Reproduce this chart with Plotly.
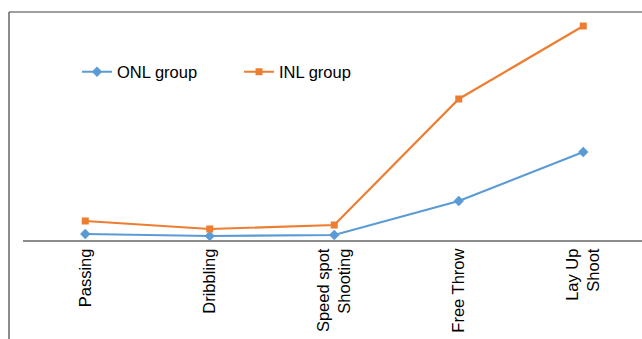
import plotly.graph_objects as go

categories = ["Passing", "Dribbling", "Speed spot<br>Shooting", "Free Throw", "Lay Up<br>Shoot"]
onl_values = [0.6, 0.4, 0.5, 3.9, 8.8]
inl_values = [1.9, 1.1, 1.5, 14.1, 21.4]

blue = "#5B9BD5"
orange = "#ED7D31"
font_family = "Liberation Sans, Arial, sans-serif"

fig = go.Figure()
fig.add_trace(go.Scatter(
    x=list(range(len(categories))), y=onl_values, name="ONL group",
    mode="lines+markers",
    line=dict(color=blue, width=2.2),
    marker=dict(symbol="diamond", size=8, color=blue),
))
fig.add_trace(go.Scatter(
    x=list(range(len(categories))), y=inl_values, name="INL group",
    mode="lines+markers",
    line=dict(color=orange, width=2.2),
    marker=dict(symbol="square", size=7, color=orange),
))

W, H = 642, 339
ml, mr, mt, mb = 23, 0, 12, 99
pw = W - ml - mr
ph = H - mt - mb
step = 124.5

fig.update_layout(
    width=W, height=H,
    margin=dict(l=ml, r=mr, t=mt, b=mb, pad=0),
    paper_bgcolor="white", plot_bgcolor="white",
    font=dict(family=font_family, size=16.5, color="black"),
    showlegend=True,
    legend=dict(
        orientation="h", x=(77 - ml) / pw, xanchor="left",
        y=(240 - 72) / ph, yanchor="middle",
        bgcolor="rgba(0,0,0,0)", entrywidth=117, entrywidthmode="pixels",
        font=dict(size=16.5),
    ),
    xaxis=dict(
        tickmode="array", tickvals=list(range(len(categories))), ticktext=categories,
        range=[-0.5, -0.5 + pw / step],
        tickangle=-90, showgrid=False, zeroline=False,
        showline=True, linecolor="#8c8c8c", linewidth=2,
        ticks="", ticklen=0,
    ),
    yaxis=dict(
        range=[0, ph / 10.0], showticklabels=False, showgrid=False,
        zeroline=False, showline=False, ticks="",
    ),
    shapes=[
        dict(type="line", xref="paper", yref="paper",
             x0=(9 - ml) / pw, x1=(9 - ml) / pw, y0=1.0, y1=-0.6,
             line=dict(color="#404040", width=1.2)),
        dict(type="line", xref="paper", yref="paper",
             x0=(9 - ml) / pw, x1=1.1, y0=1.0, y1=1.0,
             line=dict(color="#404040", width=1.2)),
    ],
)

fig.write_html("out.html")
